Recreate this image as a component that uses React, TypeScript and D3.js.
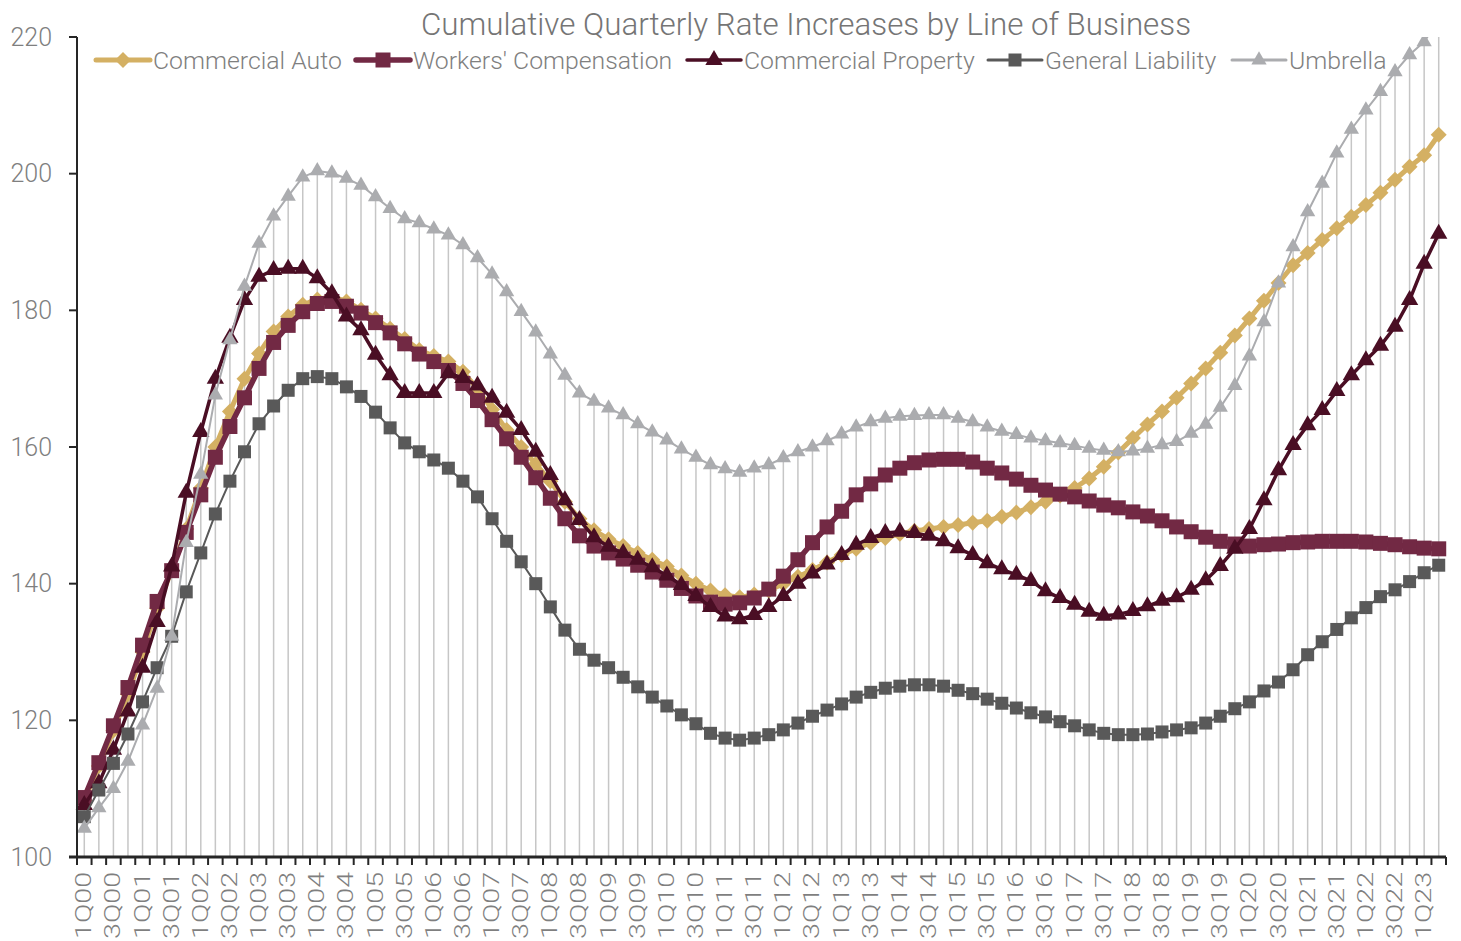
import * as d3 from 'd3'

const W = 1461
const H = 941
const MARGIN = { top: 37, right: 15, bottom: 84, left: 77 }
const FONT = "Roboto, 'Open Sans', sans-serif"
const TEXT_GREY = '#7f7f7f'
const DROP_LINE = '#c6c6c6'
const AXIS_LINE = '#262626'

const TITLE = 'Cumulative Quarterly Rate Increases by Line of Business'

const YEARS = ['00', '01', '02', '03', '04', '05', '06', '07', '08', '09', '10', '11',
  '12', '13', '14', '15', '16', '17', '18', '19', '20', '21', '22', '23']
const QUARTERS = ['1Q', '2Q', '3Q', '4Q']
// 1Q00 .. 2Q23
const categories = YEARS.flatMap((y) => QUARTERS.map((q) => q + y)).slice(0, 94)

const Y_TICKS = [100, 120, 140, 160, 180, 200, 220]

const commercialAuto = [
  108.3, 113.3, 118.5, 123.8, 130, 136.4, 142, 148, 154, 160, 165.2, 170, 173.7, 176.9, 179.1, 180.8,
  181.6, 182, 181.3, 180.1, 178.8, 177.3, 175.8, 174.2, 173.3, 172.5, 171, 168.5, 165.5, 162.5, 160, 157.5,
  155, 152, 149.5, 147.8, 146.5, 145.5, 144.5, 143.5, 142.5, 141.2, 140, 139, 138.3, 138, 138.4, 139,
  140, 141, 142, 143.1, 144.2, 145.1, 146, 146.7, 147.3, 147.7, 148, 148.3, 148.6, 148.9, 149.2, 149.8,
  150.4, 151.2, 152, 152.9, 154, 155.4, 157.1, 159.2, 161.3, 163.3, 165.2, 167.2, 169.3, 171.5, 173.8, 176.3,
  178.8, 181.4, 184, 186.6, 188.4, 190.3, 192, 193.7, 195.4, 197.2, 199.1, 201, 202.7, 205.7,
]
const workersComp = [
  108.7, 113.8, 119.2, 124.8, 131, 137.4, 141.9, 147.5, 153, 158.5, 163, 167.2, 171.5, 175.3, 177.8, 179.8,
  181, 181.3, 180.6, 179.6, 178.2, 176.7, 175.1, 173.6, 172.5, 171.2, 169.3, 166.8, 164, 161.2, 158.5, 155.5,
  152.5, 149.5, 147, 145.5, 144.5, 143.6, 142.7, 141.7, 140.5, 139.3, 138.2, 137.3, 137, 137.2, 137.9, 139.2,
  141.1, 143.5, 146, 148.3, 150.6, 153, 154.6, 155.9, 156.9, 157.7, 158.1, 158.2, 158.2, 157.8, 156.9, 156.2,
  155.3, 154.4, 153.7, 153.1, 152.7, 152.1, 151.5, 151.1, 150.5, 149.9, 149.2, 148.3, 147.6, 146.8, 146.2, 145.8,
  145.5, 145.7, 145.8, 146, 146.1, 146.2, 146.2, 146.2, 146.1, 145.9, 145.7, 145.4, 145.2, 145.1,
]
const commercialProperty = [
  107.6, 110.8, 115.7, 121.3, 127.7, 134.4, 142.5, 153.3, 162.2, 170, 176, 181.5, 184.9, 185.9, 186.1, 186.1,
  184.7, 182.5, 179.1, 177.1, 173.5, 170.5, 167.9, 167.9, 167.9, 170.8, 170.1, 169, 167.2, 165, 162.5, 159.3,
  155.9, 152.2, 149.3, 146.8, 145.4, 144.5, 143.5, 142.4, 141.2, 139.8, 138.2, 136.6, 135.2, 134.8, 135.4, 136.6,
  138.2, 140, 141.5, 142.8, 144.2, 145.7, 146.7, 147.4, 147.6, 147.4, 147, 146.2, 145.2, 144.2, 143, 142.1,
  141.3, 140.4, 138.9, 137.9, 136.9, 135.9, 135.3, 135.5, 136, 136.7, 137.5, 138, 139.1, 140.5, 142.6, 145.1,
  148, 152.2, 156.6, 160.3, 163.2, 165.4, 168.2, 170.5, 172.7, 174.8, 177.6, 181.5, 186.8, 191.2,
]
const generalLiability = [
  105.9, 109.8, 113.7, 118, 122.7, 127.7, 132.3, 138.8, 144.5, 150.2, 155, 159.3, 163.4, 166, 168.3, 170,
  170.3, 170, 168.8, 167.4, 165.1, 162.8, 160.6, 159.3, 158.1, 156.9, 155, 152.7, 149.5, 146.2, 143.2, 140,
  136.6, 133.2, 130.4, 128.8, 127.7, 126.3, 124.9, 123.4, 122.1, 120.8, 119.5, 118.1, 117.4, 117.1, 117.4, 117.9,
  118.6, 119.6, 120.6, 121.5, 122.4, 123.4, 124.1, 124.7, 125, 125.2, 125.2, 125, 124.4, 123.9, 123.1, 122.5,
  121.8, 121.1, 120.5, 119.8, 119.2, 118.6, 118.1, 117.9, 117.9, 118, 118.3, 118.6, 118.9, 119.6, 120.6, 121.7,
  122.7, 124.3, 125.6, 127.4, 129.6, 131.5, 133.3, 135, 136.5, 138.1, 139.1, 140.3, 141.6, 142.7,
]
const umbrella = [
  104.2, 107.2, 110, 114, 119.3, 124.7, 132.3, 146, 156, 167.6, 175.7, 183.5, 189.8, 193.8, 196.7, 199.5,
  200.4, 200.1, 199.3, 198.3, 196.6, 194.9, 193.4, 192.8, 191.9, 191, 189.6, 187.7, 185.3, 182.7, 179.8, 176.8,
  173.6, 170.5, 167.9, 166.7, 165.7, 164.7, 163.4, 162.2, 161, 159.7, 158.5, 157.4, 156.8, 156.3, 156.9, 157.4,
  158.4, 159.3, 160, 160.9, 161.9, 162.9, 163.7, 164.2, 164.5, 164.6, 164.7, 164.7, 164.2, 163.7, 162.9, 162.3,
  161.8, 161.3, 160.9, 160.6, 160.2, 159.8, 159.5, 159.3, 159.4, 159.8, 160.3, 160.8, 162, 163.3, 165.8, 169,
  173.3, 178.3, 184, 189.3, 194.4, 198.6, 203, 206.5, 209.3, 212, 214.9, 217.4, 219.3, 222.5,
]

type Marker = 'diamond' | 'square' | 'triangle'
interface Series {
  name: string
  values: number[]
  color: string
  lineWidth: number
  marker: Marker
  markerSize: number
}

const SERIES: Series[] = [
  { name: 'Commercial Auto', values: commercialAuto, color: '#d4b063', lineWidth: 5, marker: 'diamond', markerSize: 16 },
  { name: "Workers' Compensation", values: workersComp, color: '#722944', lineWidth: 5.5, marker: 'square', markerSize: 15 },
  { name: 'Commercial Property', values: commercialProperty, color: '#4a0e24', lineWidth: 3.5, marker: 'triangle', markerSize: 17 },
  { name: 'General Liability', values: generalLiability, color: '#595959', lineWidth: 2, marker: 'square', markerSize: 13 },
  { name: 'Umbrella', values: umbrella, color: '#abacaf', lineWidth: 2, marker: 'triangle', markerSize: 15 },
]

const LEGEND_X = [96, 356, 687, 988, 1232]

function markerPath(m: Marker, size: number) {
  if (m === 'triangle') return d3.symbol(d3.symbolTriangle, size * size * 0.45)()!
  return d3.symbol(d3.symbolSquare, size * size)()!
}

function MarkerShape({ m, size, color, x, y }: { m: Marker; size: number; color: string; x: number; y: number }) {
  const rot = m === 'diamond' ? ' rotate(45)' : ''
  const s = m === 'diamond' ? size / Math.SQRT2 : size
  return <path d={markerPath(m, s)} transform={`translate(${x},${y})${rot}`} fill={color} />
}

export default function App() {
  const plotW = W - MARGIN.left - MARGIN.right
  const plotH = H - MARGIN.top - MARGIN.bottom

  const x = d3.scaleBand<string>().domain(categories).range([MARGIN.left, MARGIN.left + plotW])
  const cx = (c: string) => x(c)! + x.bandwidth() / 2
  const y = d3.scaleLinear().domain([100, 220]).range([MARGIN.top + plotH, MARGIN.top])

  const line = d3
    .line<number>()
    .x((_, i) => cx(categories[i]))
    .y((d) => y(d))

  const tops = categories.map((_, i) => Math.min(220, d3.max(SERIES, (s) => s.values[i])!))
  const bottom = y(100)

  return (
    <svg
      width={W}
      height={H}
      style={{ position: 'absolute', left: 0, top: 0, background: '#fff' }}
      fontFamily={FONT}
    >
      <defs>
        <clipPath id="plot-clip">
          <rect x={MARGIN.left - 10} y={MARGIN.top} width={plotW + 20} height={plotH + 10} />
        </clipPath>
      </defs>

      <text x={806} y={35} textAnchor="middle" fontSize={31.3} fontWeight={300} fill="#757575">
        {TITLE}
      </text>

      {/* drop lines */}
      <g stroke={DROP_LINE} strokeWidth={1.5}>
        {categories.map((c, i) => (
          <line key={c} x1={cx(c)} x2={cx(c)} y1={y(tops[i])} y2={bottom} />
        ))}
      </g>

      <g clipPath="url(#plot-clip)">
        {SERIES.map((s) => (
          <g key={s.name}>
            <path d={line(s.values)!} fill="none" stroke={s.color} strokeWidth={s.lineWidth} strokeLinejoin="round" />
            {s.values.map((v, i) => (
              <MarkerShape key={i} m={s.marker} size={s.markerSize} color={s.color} x={cx(categories[i])} y={y(v)} />
            ))}
          </g>
        ))}
      </g>

      {/* y axis */}
      <g>
        <line x1={MARGIN.left} x2={MARGIN.left} y1={MARGIN.top} y2={bottom} stroke={AXIS_LINE} strokeWidth={2} />
        {Y_TICKS.map((t) => (
          <g key={t}>
            <line x1={MARGIN.left - 8} x2={MARGIN.left} y1={y(t)} y2={y(t)} stroke={AXIS_LINE} strokeWidth={2} />
            <text x={52} y={y(t)} dy="0.35em" textAnchor="end" fontSize={25} fontWeight={300} fill={TEXT_GREY}>
              {t}
            </text>
          </g>
        ))}
      </g>

      {/* x axis */}
      <g>
        <line x1={MARGIN.left - 8} x2={MARGIN.left + plotW} y1={bottom} y2={bottom} stroke={AXIS_LINE} strokeWidth={3} />
        {[...categories.map((c) => x(c)!), MARGIN.left + plotW].map((tx, i) => (
          <line key={i} x1={tx} x2={tx} y1={bottom} y2={bottom + 8} stroke={AXIS_LINE} strokeWidth={2} />
        ))}
        {categories.map((c, i) =>
          i % 2 === 0 ? (
            <text
              key={c}
              transform={`translate(${cx(c) + 7},${bottom + 15}) rotate(-90) scale(1.3,1)`}
              textAnchor="end"
              fontSize={22}
              fontWeight={300}
              fill={TEXT_GREY}
            >
              {c}
            </text>
          ) : null,
        )}
      </g>

      {/* legend */}
      <g>
        {SERIES.map((s, i) => {
          const lx = LEGEND_X[i]
          const ly = 60
          return (
            <g key={s.name}>
              <line x1={lx} x2={lx + 54} y1={ly} y2={ly} stroke={s.color} strokeWidth={Math.max(3, s.lineWidth)} strokeLinecap="round" />
              <MarkerShape m={s.marker} size={s.markerSize} color={s.color} x={lx + 27} y={ly} />
              <text x={lx + 57} y={ly} dy="0.35em" fontSize={24.8} fontWeight={300} fill={TEXT_GREY}>
                {s.name}
              </text>
            </g>
          )
        })}
      </g>
    </svg>
  )
}
